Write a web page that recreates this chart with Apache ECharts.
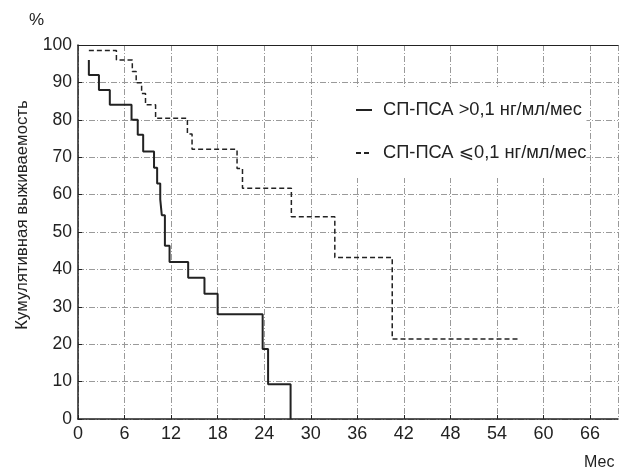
<!DOCTYPE html>
<html>
<head>
<meta charset="utf-8">
<script src="https://cdn.jsdelivr.net/npm/echarts@6/dist/echarts.min.js"></script>
<style>html,body{margin:0;padding:0;background:#fff}#c{width:621px;height:472px}</style>
</head>
<body>
<div id="c"></div>
<script>
// Series A: СП-ПСА >0,1 (solid) — month of drop, value after drop
var monthsA = [1.4, 1.4, 2.7, 4.1, 6.9, 7.7, 8.4, 9.8, 10.2, 10.6, 10.8, 11.2, 11.8, 14.2, 16.3, 18.0, 23.8, 24.5, 27.4];
var valuesA = [96, 92, 88, 84, 80, 76, 71.5, 67.2, 63, 58.7, 54.5, 46.3, 42, 37.8, 33.5, 28, 18.7, 9.3, 0];
// Series B: СП-ПСА ⩽0,1 (dashed)
var monthsB = [1.4, 4.95, 7.0, 7.5, 8.2, 8.7, 10.0, 14.1, 14.7, 20.5, 21.2, 27.5, 33.1, 40.5, 57.0];
var valuesB = [98.5, 96, 92.9, 89.9, 87, 84, 80.4, 76.2, 72.1, 67, 61.7, 54.1, 43.2, 21.4, 21.4];
var seriesNames = ['СП-ПСА >0,1 нг/мл/мес', 'СП-ПСА ⩽0,1 нг/мл/мес'];
var xTicks = {min: 0, max: 69.6, interval: 6};
var yTicks = {min: 0, max: 100, interval: 10};
var yTitle = 'Кумулятивная выживаемость';
var yUnit = '%';
var xUnit = 'Мес';

function pairs(xs, ys) { return xs.map(function (x, i) { return [x, ys[i]]; }); }
var FONT = "'Liberation Sans', Arial, 'DejaVu Sans', sans-serif";
var gridStyle = {color: '#9a9a9a', width: 1, type: [6, 2, 1, 2]};
var chart = echarts.init(document.getElementById('c'), null, {renderer: 'canvas'});
chart.setOption({
  animation: false,
  backgroundColor: '#fff',
  grid: {left: 78, top: 45, width: 540, height: 374, containLabel: false},
  xAxis: [{
    type: 'value', position: 'bottom', min: xTicks.min, max: xTicks.max, interval: xTicks.interval,
    axisLine: {show: true, lineStyle: {color: '#222', width: 1.5}},
    axisTick: {show: true, inside: true, length: 4, lineStyle: {color: '#222'}},
    axisLabel: {fontSize: 18, color: '#222', fontFamily: FONT, margin: 6, showMaxLabel: false},
    splitLine: {show: true, lineStyle: gridStyle}
  }, {
    type: 'value', position: 'top', min: xTicks.min, max: xTicks.max, interval: xTicks.interval,
    axisLine: {show: true, lineStyle: {color: '#222', width: 1.2}},
    axisTick: {show: false}, axisLabel: {show: false}, splitLine: {show: false}
  }],
  yAxis: [{
    type: 'value', min: yTicks.min, max: yTicks.max, interval: yTicks.interval,
    axisLine: {show: true, lineStyle: {color: '#222', width: 1.5}},
    axisTick: {show: true, inside: true, length: 4, lineStyle: {color: '#222'}},
    axisLabel: {fontSize: 17.5, color: '#222', fontFamily: FONT, margin: 6},
    splitLine: {show: true, lineStyle: gridStyle}
  }],
  legend: {
    orient: 'vertical', left: 320, top: 87,
    backgroundColor: '#fff',
    padding: [14, 0, 16, 35],
    itemGap: 25, itemWidth: 16, itemHeight: 10,
    itemStyle: {opacity: 0},
    textStyle: {fontSize: 18.3, color: '#222', fontFamily: FONT, padding: [0, 0, 0, 6]},
    data: seriesNames
  },
  series: [{
    name: seriesNames[0], type: 'line', step: 'end', symbol: 'none',
    lineStyle: {color: '#222', width: 2, type: 'solid'},
    itemStyle: {color: '#222'},
    data: pairs(monthsA, valuesA)
  }, {
    name: seriesNames[1], type: 'line', step: 'end', symbol: 'none',
    lineStyle: {color: '#222', width: 1.5, type: [5, 3]},
    itemStyle: {color: '#222'},
    data: pairs(monthsB, valuesB)
  }],
  graphic: [
    {type: 'text', left: 29, top: 12, style: {text: yUnit, fill: '#222', font: '17px ' + FONT}},
    {type: 'text', x: 22, y: 215, rotation: Math.PI / 2,
     style: {text: yTitle, fill: '#222', font: '16.8px ' + FONT, align: 'center', verticalAlign: 'middle'}},
    {type: 'text', left: 584, top: 455, style: {text: xUnit, fill: '#222', font: '16px ' + FONT}}
  ]
});
</script>
</body>
</html>
